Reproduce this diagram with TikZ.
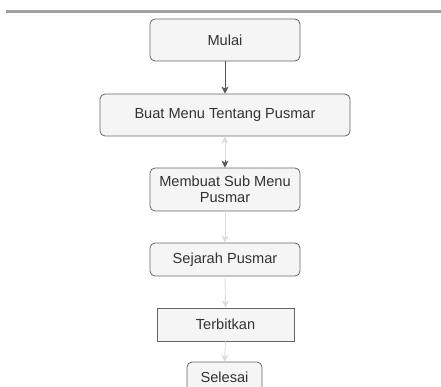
\documentclass[tikz,border=0pt]{standalone}
\usepackage{fontspec}
\setmainfont{Liberation Sans}
\usetikzlibrary{arrows.meta}
\definecolor{boxfill}{HTML}{F5F5F5}
\definecolor{boxline}{HTML}{666666}
\definecolor{txt}{HTML}{333333}
\definecolor{darkarr}{HTML}{555555}
\definecolor{lightarr}{HTML}{DDDDDD}
\definecolor{topbar}{HTML}{A0A0A0}
\tikzset{
  flowbox/.style={draw=boxline, fill=boxfill, line width=0.8pt, rounded corners=5pt,
    text=txt, font=\fontsize{14.6pt}{16.5pt}\selectfont, align=center, inner sep=0pt, anchor=center},
  sharpbox/.style={flowbox, rounded corners=0pt},
  darkconn/.style={draw=darkarr, line width=0.9pt, -{Stealth[length=7pt,width=7pt,inset=2pt]}},
  lightconn/.style={draw=lightarr, line width=0.9pt, -{Stealth[length=7pt,width=7pt,inset=2pt]}},
}
\begin{document}
\begin{tikzpicture}[x=1pt,y=-1pt]
\useasboundingbox (0,0) rectangle (441,387);
\clip (0,0) rectangle (441,387);
\draw[topbar, line width=3pt] (6,11.5) -- (441,11.5);
\node[flowbox, minimum width=150pt, minimum height=42pt] (mulai) at (225,40) {Mulai};
\node[flowbox, minimum width=250pt, minimum height=42pt] (buat) at (225,115) {Buat Menu Tentang Pusmar};
\node[flowbox, minimum width=150pt, minimum height=43pt] (sub) at (225,189.5) {Membuat Sub Menu\\Pusmar};
\node[flowbox, minimum width=150pt, minimum height=33pt] (sejarah) at (225,259.5) {Sejarah Pusmar};
\node[sharpbox, minimum width=137pt, minimum height=33pt] (terbit) at (225.5,324.5) {Terbitkan};
\node[flowbox, minimum width=75pt, minimum height=30pt] (selesai) at (224.5,377) {Selesai};
\draw[darkconn] (mulai.south) -- (buat.north);
\draw[lightconn, {Stealth[length=7pt,width=7pt,inset=2pt]}-] (buat.south) -- (sub.north);
\draw[-{Stealth[length=7pt,width=7pt,inset=2pt,fill=darkarr]}, draw=darkarr, line width=0.9pt, shorten <=24pt] (buat.south) -- (sub.north);
\draw[lightconn] (sub.south) -- (sejarah.north);
\draw[lightconn] (sejarah.south) -- (terbit.north);
\draw[lightconn] (terbit.south) -- (selesai.north);
\end{tikzpicture}
\end{document}
